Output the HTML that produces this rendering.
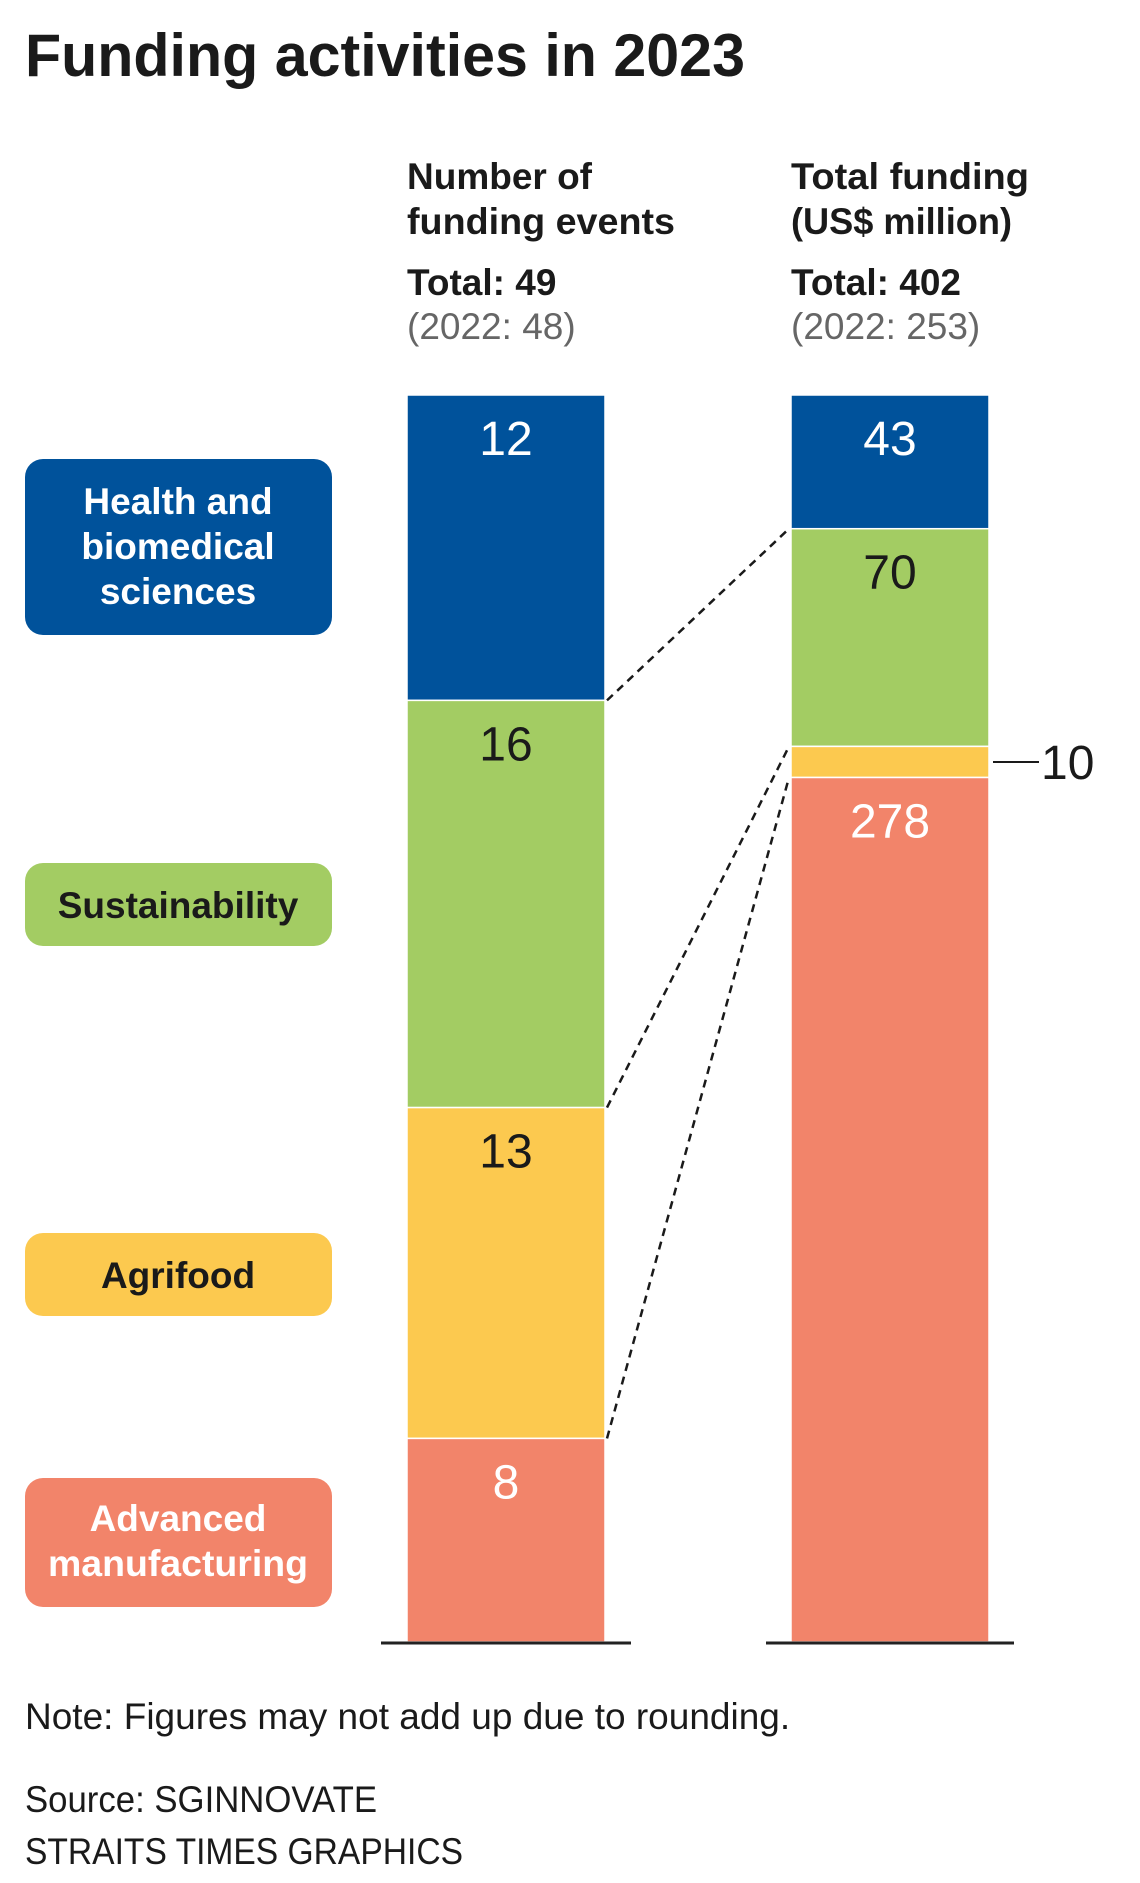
<!DOCTYPE html>
<html><head><meta charset="utf-8">
<style>
html,body{margin:0;padding:0;background:#fff;}
svg{display:block;}
text{font-family:"Liberation Sans Narrow","Liberation Sans",sans-serif;}
</style></head>
<body>
<svg id="chart" width="1140" height="1883" viewBox="0 0 1140 1883" xmlns="http://www.w3.org/2000/svg">
<text x="25" y="76" font-size="60" font-weight="bold" fill="#1a1a1a" textLength="720" lengthAdjust="spacingAndGlyphs">Funding activities in 2023</text>
<g fill="#1a1a1a" font-size="37">
<text x="407" y="189" font-weight="bold" textLength="185" lengthAdjust="spacingAndGlyphs">Number of</text>
<text x="407" y="234" font-weight="bold" textLength="268" lengthAdjust="spacingAndGlyphs">funding events</text>
<text x="407" y="295" font-weight="bold">Total: 49</text>
<text x="407" y="339" fill="#666">(2022: 48)</text>
</g>
<g fill="#1a1a1a" font-size="37">
<text x="791" y="189" font-weight="bold" textLength="238" lengthAdjust="spacingAndGlyphs">Total funding</text>
<text x="791" y="234" font-weight="bold" textLength="221" lengthAdjust="spacingAndGlyphs">(US$ million)</text>
<text x="791" y="295" font-weight="bold">Total: 402</text>
<text x="791" y="339" fill="#666">(2022: 253)</text>
</g>
<g id="legend">
<rect x="25" y="459" width="307" height="176" rx="18" fill="#00529b"/>
<text x="178" y="514" font-size="37" font-weight="bold" fill="#fff" text-anchor="middle">Health and</text>
<text x="178" y="559" font-size="37" font-weight="bold" fill="#fff" text-anchor="middle">biomedical</text>
<text x="178" y="604" font-size="37" font-weight="bold" fill="#fff" text-anchor="middle">sciences</text>
<rect x="25" y="863" width="307" height="83" rx="18" fill="#a3cc63"/>
<text x="178" y="918" font-size="37" font-weight="bold" fill="#1a1a1a" text-anchor="middle">Sustainability</text>
<rect x="25" y="1233" width="307" height="83" rx="18" fill="#fcc94f"/>
<text x="178" y="1288" font-size="37" font-weight="bold" fill="#1a1a1a" text-anchor="middle">Agrifood</text>
<rect x="25" y="1478" width="307" height="129" rx="18" fill="#f2846a"/>
<text x="178" y="1531" font-size="37" font-weight="bold" fill="#fff" text-anchor="middle">Advanced</text>
<text x="178" y="1576" font-size="37" font-weight="bold" fill="#fff" text-anchor="middle" textLength="260" lengthAdjust="spacingAndGlyphs">manufacturing</text>
</g>
<g id="bars"></g>
<line x1="381" y1="1643" x2="631" y2="1643" stroke="#222" stroke-width="3"/>
<line x1="766" y1="1643" x2="1014" y2="1643" stroke="#222" stroke-width="3"/>
<text x="25" y="1729" font-size="37" fill="#1a1a1a">Note: Figures may not add up due to rounding.</text>
<text x="25" y="1812" font-size="37" fill="#1a1a1a" textLength="352" lengthAdjust="spacingAndGlyphs">Source: SGINNOVATE</text>
<text x="25" y="1864" font-size="37" fill="#1a1a1a" textLength="438" lengthAdjust="spacingAndGlyphs">STRAITS TIMES GRAPHICS</text>
</svg>
<script>
const categories = ["Health and biomedical sciences","Sustainability","Agrifood","Advanced manufacturing"];
const eventCounts = [12, 16, 13, 8];
const fundingValues = [43, 70, 10, 278];
const colors = ["#00529b","#a3cc63","#fcc94f","#f2846a"];
const labelColors = ["#fff","#1a1a1a","#1a1a1a","#fff"];

const NS = "http://www.w3.org/2000/svg";
const g = document.getElementById("bars");
const top0 = 395, bottom0 = 1642, barW = 198;
function scaleFor(vals){ const s = vals.reduce((a,b)=>a+b,0); return v => v/s*(bottom0-top0); }
function mk(tag, attrs){ const e = document.createElementNS(NS, tag); for (const k in attrs) e.setAttribute(k, attrs[k]); g.appendChild(e); return e; }

function drawStack(vals, x, prefix){
  const sc = scaleFor(vals);
  let y = top0; const bounds = [];
  vals.forEach((v,i)=>{
    const h = sc(v);
    const r = mk("rect",{x:x,y:y,width:barW,height:h,fill:colors[i],stroke:"#fff","stroke-width":1.5});
    
    
    if (h > 40) {
      const t = mk("text",{x:x+barW/2,y:y+60,"font-size":48,fill:labelColors[i],"text-anchor":"middle"});
      t.textContent = v;
      
      
    } else {
      const ym = y + h/2;
      const l = mk("line",{x1:x+barW+4,y1:ym,x2:x+barW+50,y2:ym,stroke:"#1a1a1a","stroke-width":2});
      
      
      const t = mk("text",{x:x+barW+52,y:ym+17,"font-size":48,fill:"#1a1a1a"});
      t.textContent = v;
      
      
    }
    y += h; bounds.push(y);
  });
  return bounds;
}
const lx = 407, rx = 791;
const lb = drawStack(eventCounts, lx, "events");
const rb = drawStack(fundingValues, rx, "funding");
for (let i = 0; i < categories.length - 1; i++) {
  const d = mk("line",{x1:lx+barW+2,y1:lb[i],x2:rx-2,y2:rb[i],stroke:"#1a1a1a","stroke-width":2.5,"stroke-dasharray":"8,6"});
  
  
}
</script>
</body></html>
